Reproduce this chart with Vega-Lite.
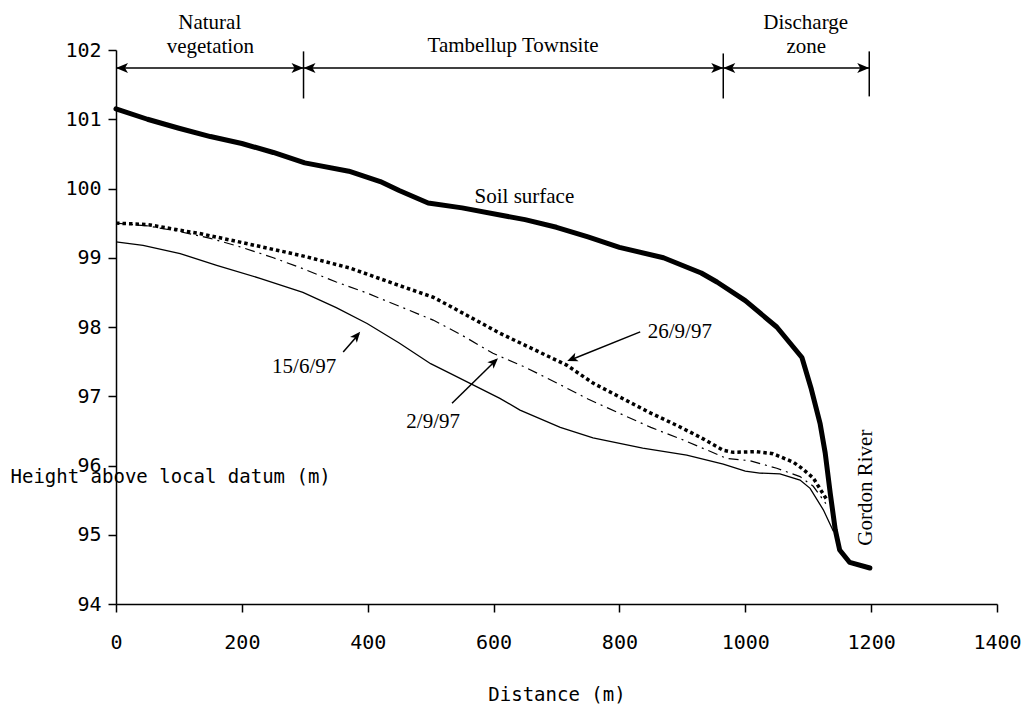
{
  "$schema": "https://vega.github.io/schema/vega-lite/v6.json",
  "width": 881,
  "height": 554,
  "autosize": {"type": "none"},
  "padding": {"left": 116, "top": 50, "right": 26, "bottom": 103},
  "background": "white",
  "config": {"view": {"stroke": null}},
  "datasets": {
    "profiles": [
      {"series": "Soil surface", "distance": 0, "height": 101.15},
      {"series": "Soil surface", "distance": 50, "height": 101.0},
      {"series": "Soil surface", "distance": 100, "height": 100.87},
      {"series": "Soil surface", "distance": 150, "height": 100.75},
      {"series": "Soil surface", "distance": 200, "height": 100.65},
      {"series": "Soil surface", "distance": 250, "height": 100.52},
      {"series": "Soil surface", "distance": 300, "height": 100.37},
      {"series": "Soil surface", "distance": 370, "height": 100.25},
      {"series": "Soil surface", "distance": 420, "height": 100.1},
      {"series": "Soil surface", "distance": 450, "height": 99.97},
      {"series": "Soil surface", "distance": 496, "height": 99.79},
      {"series": "Soil surface", "distance": 550, "height": 99.72},
      {"series": "Soil surface", "distance": 650, "height": 99.55},
      {"series": "Soil surface", "distance": 700, "height": 99.44},
      {"series": "Soil surface", "distance": 750, "height": 99.3},
      {"series": "Soil surface", "distance": 800, "height": 99.15},
      {"series": "Soil surface", "distance": 870, "height": 99.0},
      {"series": "Soil surface", "distance": 930, "height": 98.78},
      {"series": "Soil surface", "distance": 955, "height": 98.65},
      {"series": "Soil surface", "distance": 1000, "height": 98.38},
      {"series": "Soil surface", "distance": 1050, "height": 98.0},
      {"series": "Soil surface", "distance": 1090, "height": 97.56},
      {"series": "Soil surface", "distance": 1105, "height": 97.1},
      {"series": "Soil surface", "distance": 1119, "height": 96.6},
      {"series": "Soil surface", "distance": 1127, "height": 96.18},
      {"series": "Soil surface", "distance": 1135, "height": 95.6},
      {"series": "Soil surface", "distance": 1143, "height": 95.07},
      {"series": "Soil surface", "distance": 1150, "height": 94.78},
      {"series": "Soil surface", "distance": 1166, "height": 94.6},
      {"series": "Soil surface", "distance": 1198, "height": 94.52},

      {"series": "26/9/97", "distance": 0, "height": 99.5},
      {"series": "26/9/97", "distance": 50, "height": 99.48},
      {"series": "26/9/97", "distance": 100, "height": 99.4},
      {"series": "26/9/97", "distance": 133, "height": 99.35},
      {"series": "26/9/97", "distance": 200, "height": 99.22},
      {"series": "26/9/97", "distance": 250, "height": 99.12},
      {"series": "26/9/97", "distance": 300, "height": 99.02},
      {"series": "26/9/97", "distance": 372, "height": 98.85},
      {"series": "26/9/97", "distance": 450, "height": 98.6},
      {"series": "26/9/97", "distance": 504, "height": 98.43},
      {"series": "26/9/97", "distance": 531, "height": 98.3},
      {"series": "26/9/97", "distance": 610, "height": 97.91},
      {"series": "26/9/97", "distance": 716, "height": 97.45},
      {"series": "26/9/97", "distance": 758, "height": 97.19},
      {"series": "26/9/97", "distance": 849, "height": 96.76},
      {"series": "26/9/97", "distance": 891, "height": 96.58},
      {"series": "26/9/97", "distance": 928, "height": 96.41},
      {"series": "26/9/97", "distance": 965, "height": 96.22},
      {"series": "26/9/97", "distance": 981, "height": 96.19},
      {"series": "26/9/97", "distance": 1018, "height": 96.2},
      {"series": "26/9/97", "distance": 1044, "height": 96.17},
      {"series": "26/9/97", "distance": 1076, "height": 96.05},
      {"series": "26/9/97", "distance": 1090, "height": 95.96},
      {"series": "26/9/97", "distance": 1108, "height": 95.82},
      {"series": "26/9/97", "distance": 1130, "height": 95.5},

      {"series": "2/9/97", "distance": 0, "height": 99.5},
      {"series": "2/9/97", "distance": 50, "height": 99.46},
      {"series": "2/9/97", "distance": 100, "height": 99.38},
      {"series": "2/9/97", "distance": 150, "height": 99.28},
      {"series": "2/9/97", "distance": 200, "height": 99.15},
      {"series": "2/9/97", "distance": 250, "height": 99.0},
      {"series": "2/9/97", "distance": 292, "height": 98.86},
      {"series": "2/9/97", "distance": 350, "height": 98.65},
      {"series": "2/9/97", "distance": 399, "height": 98.49},
      {"series": "2/9/97", "distance": 450, "height": 98.3},
      {"series": "2/9/97", "distance": 504, "height": 98.1},
      {"series": "2/9/97", "distance": 550, "height": 97.88},
      {"series": "2/9/97", "distance": 599, "height": 97.62},
      {"series": "2/9/97", "distance": 650, "height": 97.42},
      {"series": "2/9/97", "distance": 701, "height": 97.19},
      {"series": "2/9/97", "distance": 750, "height": 96.96},
      {"series": "2/9/97", "distance": 801, "height": 96.75},
      {"series": "2/9/97", "distance": 850, "height": 96.55},
      {"series": "2/9/97", "distance": 901, "height": 96.37},
      {"series": "2/9/97", "distance": 940, "height": 96.22},
      {"series": "2/9/97", "distance": 971, "height": 96.1},
      {"series": "2/9/97", "distance": 1007, "height": 96.07},
      {"series": "2/9/97", "distance": 1050, "height": 95.96},
      {"series": "2/9/97", "distance": 1087, "height": 95.84},
      {"series": "2/9/97", "distance": 1108, "height": 95.7},
      {"series": "2/9/97", "distance": 1128, "height": 95.45},

      {"series": "15/6/97", "distance": 0, "height": 99.23},
      {"series": "15/6/97", "distance": 43, "height": 99.18},
      {"series": "15/6/97", "distance": 102, "height": 99.06},
      {"series": "15/6/97", "distance": 160, "height": 98.89},
      {"series": "15/6/97", "distance": 230, "height": 98.7},
      {"series": "15/6/97", "distance": 297, "height": 98.5},
      {"series": "15/6/97", "distance": 350, "height": 98.28},
      {"series": "15/6/97", "distance": 399, "height": 98.05},
      {"series": "15/6/97", "distance": 450, "height": 97.77},
      {"series": "15/6/97", "distance": 500, "height": 97.47},
      {"series": "15/6/97", "distance": 531, "height": 97.33},
      {"series": "15/6/97", "distance": 610, "height": 96.97},
      {"series": "15/6/97", "distance": 642, "height": 96.8},
      {"series": "15/6/97", "distance": 706, "height": 96.55},
      {"series": "15/6/97", "distance": 758, "height": 96.4},
      {"series": "15/6/97", "distance": 837, "height": 96.25},
      {"series": "15/6/97", "distance": 907, "height": 96.15},
      {"series": "15/6/97", "distance": 965, "height": 96.02},
      {"series": "15/6/97", "distance": 1000, "height": 95.92},
      {"series": "15/6/97", "distance": 1023, "height": 95.89},
      {"series": "15/6/97", "distance": 1055, "height": 95.88},
      {"series": "15/6/97", "distance": 1087, "height": 95.79},
      {"series": "15/6/97", "distance": 1103, "height": 95.67},
      {"series": "15/6/97", "distance": 1124, "height": 95.36},
      {"series": "15/6/97", "distance": 1140, "height": 95.05}
    ],
    "rules": [
      {"distance": 0, "distance2": 1197, "height": 101.74, "height2": 101.74},
      {"distance": 298, "distance2": 298, "height": 101.3, "height2": 101.98},
      {"distance": 965, "distance2": 965, "height": 101.3, "height2": 101.95},
      {"distance": 1197, "distance2": 1197, "height": 101.33, "height2": 101.98},
      {"distance": 833, "distance2": 721, "height": 97.93, "height2": 97.52},
      {"distance": 361, "distance2": 386, "height": 97.64, "height2": 97.9},
      {"distance": 534, "distance2": 605, "height": 96.9, "height2": 97.53}
    ],
    "heads": [
      {"kind": "left", "distance": 0, "height": 101.74},
      {"kind": "left", "distance": 298, "height": 101.74},
      {"kind": "left", "distance": 965, "height": 101.74},
      {"kind": "right", "distance": 298, "height": 101.74},
      {"kind": "right", "distance": 965, "height": 101.74},
      {"kind": "right", "distance": 1197, "height": 101.74},
      {"kind": "a26", "distance": 717, "height": 97.51},
      {"kind": "a15", "distance": 388, "height": 97.93},
      {"kind": "a2", "distance": 607, "height": 97.55}
    ],
    "labels": [
      {"label": "Natural", "distance": 149, "height": 102.31},
      {"label": "vegetation", "distance": 150, "height": 101.95},
      {"label": "Tambellup Townsite", "distance": 631, "height": 101.97},
      {"label": "Discharge", "distance": 1096, "height": 102.31},
      {"label": "zone", "distance": 1097, "height": 101.95},
      {"label": "Soil surface", "distance": 649, "height": 99.79},
      {"label": "26/9/97", "distance": 896, "height": 97.84},
      {"label": "15/6/97", "distance": 299, "height": 97.33},
      {"label": "2/9/97", "distance": 504, "height": 96.54}
    ],
    "river": [
      {"label": "Gordon River", "distance": 1201, "height": 95.68}
    ]
  },
  "encoding": {
    "x": {
      "field": "distance",
      "type": "quantitative",
      "scale": {"domain": [0, 1400], "nice": false, "zero": false},
      "axis": {
        "title": "Distance (m)",
        "values": [0, 200, 400, 600, 800, 1000, 1200, 1400],
        "format": "d",
        "grid": false,
        "domainColor": "black",
        "domainWidth": 1.5,
        "tickColor": "black",
        "tickWidth": 1.5,
        "tickSize": 8,
        "labelFont": "DejaVu Sans Mono",
        "labelFontSize": 20,
        "labelColor": "black",
        "labelPadding": 20,
        "labelFlush": false,
        "labelOverlap": false,
        "labelBound": false,
        "titleFont": "DejaVu Sans Mono",
        "titleFontSize": 19,
        "titleFontWeight": "normal",
        "titleColor": "black",
        "titleBaseline": "alphabetic",
        "titleY": 96
      }
    },
    "y": {
      "field": "height",
      "type": "quantitative",
      "scale": {"domain": [94, 102], "nice": false, "zero": false},
      "axis": {
        "title": "Height above local datum (m)",
        "values": [94, 95, 96, 97, 98, 99, 100, 101, 102],
        "format": "d",
        "grid": false,
        "domainColor": "black",
        "domainWidth": 1.5,
        "tickColor": "black",
        "tickWidth": 1.5,
        "tickSize": 8,
        "labelFont": "DejaVu Sans Mono",
        "labelFontSize": 20,
        "labelColor": "black",
        "labelPadding": 7,
        "labelFlush": false,
        "labelOverlap": false,
        "labelBound": false,
        "titleFont": "DejaVu Sans Mono",
        "titleFontSize": 19,
        "titleFontWeight": "normal",
        "titleColor": "black",
        "titleAngle": 0,
        "titleAlign": "left",
        "titleBaseline": "alphabetic",
        "titleX": -106,
        "titleY": 432
      }
    }
  },
  "layer": [
    {
      "data": {"name": "profiles"},
      "transform": [{"filter": "datum.series === '15/6/97'"}],
      "mark": {"type": "line", "color": "black", "strokeWidth": 1.3}
    },
    {
      "data": {"name": "profiles"},
      "transform": [{"filter": "datum.series === '2/9/97'"}],
      "mark": {"type": "line", "color": "black", "strokeWidth": 1.2, "strokeDash": [10, 5, 2, 5]}
    },
    {
      "data": {"name": "profiles"},
      "transform": [{"filter": "datum.series === '26/9/97'"}],
      "mark": {"type": "line", "color": "black", "strokeWidth": 3.5, "strokeDash": [3.5, 3], "strokeCap": "butt"}
    },
    {
      "data": {"name": "profiles"},
      "transform": [{"filter": "datum.series === 'Soil surface'"}],
      "mark": {"type": "line", "color": "black", "strokeWidth": 5, "strokeCap": "round", "strokeJoin": "round"}
    },
    {
      "data": {"name": "rules"},
      "mark": {"type": "rule", "color": "black", "strokeWidth": 1.5},
      "encoding": {
        "x2": {"field": "distance2"},
        "y2": {"field": "height2"}
      }
    },
    {
      "data": {"name": "heads"},
      "transform": [{"filter": "datum.kind === 'left'"}],
      "mark": {"type": "point", "filled": true, "color": "black", "opacity": 1, "size": 144, "shape": "M0,0 L2,-0.85 L1.5,0 L2,0.85 Z"}
    },
    {
      "data": {"name": "heads"},
      "transform": [{"filter": "datum.kind === 'right'"}],
      "mark": {"type": "point", "filled": true, "color": "black", "opacity": 1, "size": 144, "shape": "M0,0 L-2,-0.85 L-1.5,0 L-2,0.85 Z"}
    },
    {
      "data": {"name": "heads"},
      "transform": [{"filter": "datum.kind === 'a26'"}],
      "mark": {"type": "point", "filled": true, "color": "black", "opacity": 1, "size": 110, "angle": 338, "shape": "M0,0 L2,-0.85 L1.5,0 L2,0.85 Z"}
    },
    {
      "data": {"name": "heads"},
      "transform": [{"filter": "datum.kind === 'a15'"}],
      "mark": {"type": "point", "filled": true, "color": "black", "opacity": 1, "size": 110, "angle": 310, "shape": "M0,0 L-2,-0.85 L-1.5,0 L-2,0.85 Z"}
    },
    {
      "data": {"name": "heads"},
      "transform": [{"filter": "datum.kind === 'a2'"}],
      "mark": {"type": "point", "filled": true, "color": "black", "opacity": 1, "size": 110, "angle": 316, "shape": "M0,0 L-2,-0.85 L-1.5,0 L-2,0.85 Z"}
    },
    {
      "data": {"name": "labels"},
      "mark": {"type": "text", "font": "Liberation Serif", "fontSize": 21, "color": "black", "align": "center", "baseline": "alphabetic"},
      "encoding": {"text": {"field": "label"}}
    },
    {
      "data": {"name": "river"},
      "mark": {"type": "text", "font": "Liberation Serif", "fontSize": 21, "color": "black", "align": "center", "baseline": "alphabetic", "angle": 270},
      "encoding": {"text": {"field": "label"}}
    }
  ]
}
